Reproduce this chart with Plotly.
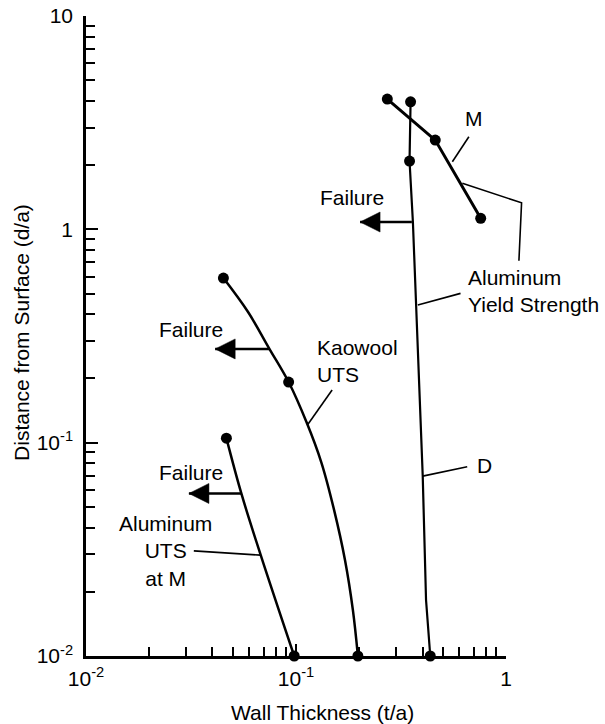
import numpy as np
import plotly.graph_objects as go

# ---------------- data ----------------
# Aluminum UTS at M
al_uts_x = [0.0466, 0.0549, 0.0679, 0.098]
al_uts_y = [0.105, 0.0578, 0.0297, 0.01]
al_uts_dot = [True, False, False, True]

# Kaowool UTS
kao_x = [0.0451, 0.0591, 0.0743, 0.0922, 0.1121, 0.1318, 0.1518, 0.171, 0.1865, 0.197]
kao_y = [0.591, 0.4096, 0.2777, 0.1924, 0.1249, 0.0811, 0.0483, 0.0282, 0.0164, 0.01]
kao_dot = [True, False, False, True, False, False, False, False, False, True]

# Aluminum yield strength, curve D
d_x = [0.351, 0.347, 0.360, 0.373, 0.3867, 0.401, 0.4158, 0.4355]
d_y = [3.96, 2.09, 1.085, 0.4416, 0.1585, 0.0697, 0.0183, 0.01]
d_dot = [True, True, False, False, False, False, False, True]

# Aluminum yield strength, curve M
m_x = [0.272, 0.460, 0.757]
m_y = [4.08, 2.62, 1.126]

# Failure arrows: (tail x, tip x, y)
fail_tail_x = [0.356, 0.0748, 0.0549]
fail_tip_x = [0.2018, 0.0412, 0.0309]
fail_y = [1.082, 0.275, 0.0578]

# Labels
label_text = ["M", "Failure", "Aluminum<br>Yield Strength", "Failure",
              "Kaowool<br>UTS", "Failure", "D", "Aluminum<br>UTS<br>at M"]
label_x = [0.7016, 0.1845, 0.641, 0.0315, 0.1236, 0.0315, 0.7905, 0.0238]
label_y = [3.314, 1.417, 0.516, 0.341, 0.2417, 0.0728, 0.0785, 0.031]
label_anchor = ["center", "center", "left", "center", "left", "center", "center", "center"]

# Leader lines (polylines, data coordinates)
leaders = [
    ([0.665, 0.555], [2.717, 2.075]),                 # M
    ([0.619, 1.185, 1.151], [1.643, 1.332, 0.7125]),  # Yield strength from M
    ([0.380, 0.607], [0.4416, 0.501]),                # Yield strength from D
    ([0.1485, 0.1133], [0.1764, 0.121]),              # Kaowool UTS
    ([0.653, 0.401], [0.0771, 0.0697]),               # D
    ([0.0326, 0.0679], [0.0311, 0.0297]),             # Aluminum UTS at M
]

x_major = [0.01, 0.1, 1]
x_major_text = ["10<sup>-2</sup>", "10<sup>-1</sup>", "1"]
y_major = [0.01, 0.1, 1, 10]
y_major_text = ["10<sup>-2</sup>", "10<sup>-1</sup>", "1", "10"]

FONT = "Liberation Sans, Arial, Helvetica, sans-serif"
FS = 21

# geometry: plot area 425 px wide for two decades; the helper axis x2
# spans the full width to the right edge of the page with the same scale
W, H = 605, 724
ML, MT, MB = 86, 16, 68
PLOT_W = 425
FULL_W = W - ML
x_dom = PLOT_W / FULL_W
x2_max = -2 + 2 * FULL_W / PLOT_W

fig = go.Figure()


def curve(xs, ys, dots, width, shape="linear"):
    fig.add_trace(go.Scatter(
        x=xs, y=ys, mode="lines", line=dict(color="black", width=width, shape=shape),
        hoverinfo="skip", showlegend=False))
    fig.add_trace(go.Scatter(
        x=[x for x, d in zip(xs, dots) if d], y=[y for y, d in zip(ys, dots) if d],
        mode="markers", marker=dict(color="black", size=11), cliponaxis=False,
        hoverinfo="skip", showlegend=False))


curve(al_uts_x, al_uts_y, al_uts_dot, 2.5, "spline")
curve(kao_x, kao_y, kao_dot, 2.5, "spline")
curve(d_x, d_y, d_dot, 2.2)
curve(m_x, m_y, [True] * len(m_x), 3)

for tx, hx, fy in zip(fail_tail_x, fail_tip_x, fail_y):
    fig.add_trace(go.Scatter(
        x=[tx, hx], y=[fy, fy], mode="lines",
        line=dict(color="black", width=2.5),
        hoverinfo="skip", showlegend=False))
fig.add_trace(go.Scatter(
    x=fail_tip_x, y=fail_y, mode="markers",
    marker=dict(symbol="arrow-left", size=20, color="black", opacity=1,
                line=dict(width=0.5, color="black")),
    cliponaxis=False, hoverinfo="skip", showlegend=False))

# leader lines on the helper axis (same scale, wider clip area)
for xs, ys in leaders:
    fig.add_trace(go.Scatter(
        x=xs, y=ys, mode="lines", xaxis="x2", yaxis="y",
        line=dict(color="black", width=1.6),
        hoverinfo="skip", showlegend=False))

annotations = []
for t, x, y, a in zip(label_text, label_x, label_y, label_anchor):
    annotations.append(dict(
        x=np.log10(x), y=np.log10(y), xref="x", yref="y", text=t,
        showarrow=False, xanchor=a, yanchor="middle", align=a,
        font=dict(family=FONT, size=FS, color="black")))

# Axis titles
annotations.append(dict(x=(325 - ML) / FULL_W, y=-0.089, xref="paper", yref="paper",
                        text="Wall Thickness (t/a)", showarrow=False,
                        xanchor="center", yanchor="middle",
                        font=dict(family=FONT, size=FS, color="black")))
annotations.append(dict(x=(20 - ML) / FULL_W, y=0.506, xref="paper", yref="paper",
                        text="Distance from Surface (d/a)", showarrow=False,
                        textangle=-90, xanchor="center", yanchor="middle",
                        font=dict(family=FONT, size=FS, color="black")))

x_minor = [m * 10.0 ** e for e in (-2, -1) for m in range(2, 10)]
y_minor = [m * 10.0 ** e for e in (-2, -1, 0) for m in range(2, 10)]

axis_common = dict(
    type="log", showgrid=False, zeroline=False, showline=True,
    linecolor="black", linewidth=2.5, ticks="inside", ticklen=12, tickwidth=2,
    tickcolor="black", tickfont=dict(family=FONT, size=FS, color="black"),
    tickmode="array",
)

fig.update_layout(
    width=W, height=H,
    margin=dict(l=ML, r=0, t=MT, b=MB),
    paper_bgcolor="white", plot_bgcolor="rgba(0,0,0,0)",
    xaxis=dict(range=[-2, 0], domain=[0, x_dom], anchor="y",
               tickvals=x_major, ticktext=x_major_text,
               ticklabelstandoff=2,
               minor=dict(tickvals=x_minor, ticks="inside", ticklen=9, tickwidth=2,
                          tickcolor="black", showgrid=False),
               **axis_common),
    xaxis2=dict(type="log", range=[-2, x2_max], domain=[0, 1], anchor="y",
                visible=False, showgrid=False, zeroline=False),
    yaxis=dict(range=[-2, 1], anchor="x", tickvals=y_major, ticktext=y_major_text,
               ticklabelstandoff=6,
               minor=dict(tickvals=y_minor, ticks="inside", ticklen=9, tickwidth=2,
                          tickcolor="black", showgrid=False),
               **axis_common),
    annotations=annotations,
    showlegend=False,
)

fig.write_html("out.html")
